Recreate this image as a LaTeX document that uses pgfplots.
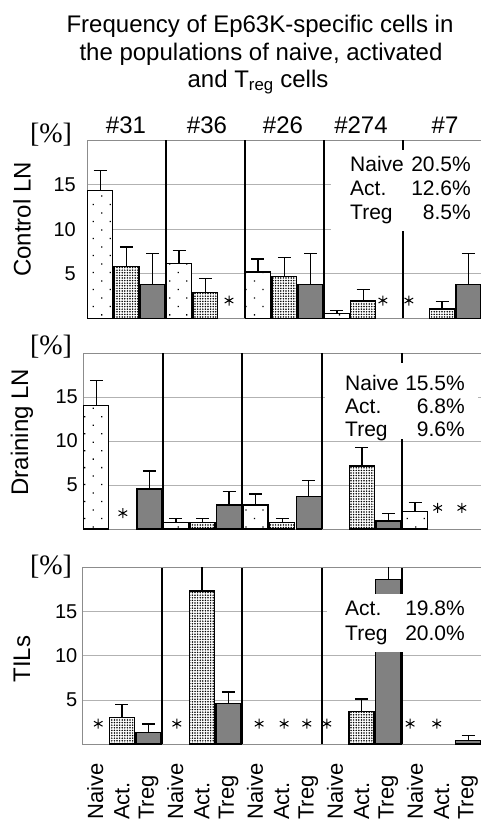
\documentclass[border=0pt]{standalone}
\usepackage{pgfplots}
\pgfplotsset{compat=1.18}
\usepackage{fontspec}
\setmainfont{Liberation Sans}
\newfontfamily\seriffont{Liberation Serif}
\usetikzlibrary{patterns.meta}

\newcommand{\fs}[1]{\fontsize{#1bp}{#1bp}\selectfont}

\pgfplotsset{
  panel/.style={
    scale only axis, anchor=south west,
    xmin=-0.5, xmax=14.5, ymin=0, ymax=20,
    enlargelimits=false,
    ytick={5,10,15}, xtick=\empty,
    major tick length=0pt,
    ymajorgrids, major grid style={black!30, line width=0.8bp},
    axis line style={black!45, line width=0.9bp},
    ybar,
    /pgf/number format/assume math mode=true,
    yticklabel style={font=\fs{20}, anchor=east, inner sep=0pt},
  },
  barbase/.style={draw=black, line width=1.4bp, bar width=0.94, bar shift=0pt,
    error bars/y dir=plus, error bars/y explicit,
    error bars/error bar style={black, line width=1.3bp},
    error bars/error mark options={black, line width=1.3bp, mark size=6.5bp, rotate=90}},
  naive/.style={barbase, preaction={fill=white},
    preaction={pattern={Dots[distance=12bp, radius=0.9bp, angle=45]}, pattern color=black}},
  act/.style={barbase, preaction={fill=white},
    preaction={pattern={Dots[distance=2.6bp, radius=0.85bp]}, pattern color=black}},
  treg/.style={barbase, preaction={fill=white},
    preaction={pattern={Dots[distance=2bp, radius=0.86bp]}, pattern color=black}},
  star/.style={sharp plot, only marks, mark=asterisk, mark size=5bp,
    mark options={black, line width=1bp}},
  sep/.style={sharp plot, no marks, black, line width=2bp},
}

\begin{document}
\begin{tikzpicture}
\useasboundingbox (0,0) rectangle (481bp,-824bp);

% title
\node[anchor=base, font=\fs{24}] at (260bp,-32bp) {Frequency of Ep63K-specific cells in};
\node[anchor=base, font=\fs{24}] at (261bp,-60bp) {the populations of naive, activated};
\node[anchor=base, font=\fs{24}] at (258bp,-87bp) {and T\textsubscript{reg} cells};

% mouse numbers
\foreach \x/\t in {126/\#31, 207/\#36, 283/\#26, 361/\#274, 445/\#7}
  \node[anchor=base, font=\fs{24}] at (\x bp,-133bp) {\t};

% ---- Control LN
\begin{axis}[panel, at={(87bp,-318.3bp)}, width=394.5bp, height=178bp,
  yticklabel style={xshift=-11bp}]
\addplot[naive] coordinates {(0,14.35) +- (0,2.25) (3,6.15) +- (0,1.5) (6,5.2) +- (0,1.45) (9,0.57) +- (0,0.3)};
\addplot[act] coordinates {(1,5.85) +- (0,2.15) (4,2.9) +- (0,1.6) (7,4.72) +- (0,2.15) (10,1.96) +- (0,1.25) (13,1.05) +- (0,0.83)};
\addplot[treg] coordinates {(2,3.78) +- (0,3.47) (8,3.78) +- (0,3.47) (14,3.78) +- (0,3.47)};
\addplot[star] coordinates {(4.9,2.0) (10.75,2.0) (11.74,2.0)};
\addplot[sep] coordinates {(2.5,0) (2.5,20)};
\addplot[sep] coordinates {(5.5,0) (5.5,20)};
\addplot[sep] coordinates {(8.5,0) (8.5,20)};
\addplot[sep] coordinates {(11.5,0) (11.5,20)};
\end{axis}
\fill[white] (331bp,-150bp) rectangle (481bp,-231bp);
\foreach \y/\a/\b in {171.5/Naive/20.5\%, 195.5/Act./12.6\%, 219.5/Treg/8.5\%} {
  \node[anchor=base west, font=\fs{21}, inner sep=0pt] at (350bp,-\y bp) {\a};
  \node[anchor=base east, font=\fs{21}, inner sep=0pt] at (471bp,-\y bp) {\b};
}

% ---- Draining LN
\begin{axis}[panel, at={(83bp,-529bp)}, width=398.5bp, height=176bp,
  yticklabel style={xshift=-5bp}]
\addplot[naive] coordinates {(0,14.06) +- (0,2.85) (3,0.72) +- (0,0.48) (6,2.72) +- (0,1.25) (12,1.96) +- (0,1.07)};
\addplot[act] coordinates {(4,0.72) +- (0,0.48) (7,0.72) +- (0,0.48) (10,7.14) +- (0,2.12)};
\addplot[treg] coordinates {(2,4.54) +- (0,2.04) (5,2.72) +- (0,1.58) (8,3.66) +- (0,1.82) (11,0.9) +- (0,0.88)};
\addplot[star] coordinates {(1.0,1.8) (12.85,2.4) (13.76,2.4)};
\addplot[sep] coordinates {(2.5,0) (2.5,20)};
\addplot[sep] coordinates {(5.5,0) (5.5,20)};
\addplot[sep] coordinates {(8.5,0) (8.5,20)};
\addplot[sep] coordinates {(11.5,0) (11.5,20)};
\end{axis}
\fill[white] (325bp,-363bp) rectangle (478bp,-439bp);
\foreach \y/\a/\b in {390/Naive/15.5\%, 413/Act./6.8\%, 436/Treg/9.6\%} {
  \node[anchor=base west, font=\fs{21}, inner sep=0pt] at (345bp,-\y bp) {\a};
  \node[anchor=base east, font=\fs{21}, inner sep=0pt] at (465bp,-\y bp) {\b};
}

% ---- TILs
\begin{axis}[panel, at={(82bp,-744bp)}, width=399.5bp, height=176.3bp,
  yticklabel style={xshift=-4.5bp},
  xtick={0,...,14},
  xticklabels={Naive,Act.,Treg,Naive,Act.,Treg,Naive,Act.,Treg,Naive,Act.,Treg,Naive,Act.,Treg},
  xticklabel style={yshift=-76bp, rotate=90, anchor=west, inner sep=0pt, font=\fs{22}}]
\addplot[act] coordinates {(1,3.03) +- (0,1.47) (4,17.38) +- (0,3.5) (10,3.66) +- (0,1.44)};
\addplot[treg] coordinates {(2,1.33) +- (0,0.94) (5,4.6) +- (0,1.3) (11,18.67) +- (0,2.5) (14,0.37) +- (0,0.63)};
\addplot[star] coordinates {(0.11,2.3) (3.06,2.3) (6.15,2.3) (7.09,2.3) (7.94,2.3) (8.69,2.3) (11.82,2.3) (12.82,2.3)};
\addplot[sep] coordinates {(2.5,0) (2.5,20)};
\addplot[sep] coordinates {(5.5,0) (5.5,20)};
\addplot[sep] coordinates {(8.5,0) (8.5,20)};
\addplot[sep] coordinates {(11.5,0) (11.5,20)};
\end{axis}
\fill[white] (327bp,-594bp) rectangle (481bp,-652bp);
\foreach \y/\a/\b in {615/Act./19.8\%, 640/Treg/20.0\%} {
  \node[anchor=base west, font=\fs{21}, inner sep=0pt] at (345bp,-\y bp) {\a};
  \node[anchor=base east, font=\fs{21}, inner sep=0pt] at (465bp,-\y bp) {\b};
}

% unit labels and row titles
\foreach \y in {135,347,567}
  \node[font=\seriffont\fs{28}] at (51bp,-\y bp) {[\%]};
\node[rotate=90, font=\fs{24}] at (22bp,-219.5bp) {Control LN};
\node[rotate=90, font=\fs{24}] at (22bp,-432bp) {Draining LN};
\node[rotate=90, font=\fs{24}] at (22bp,-659bp) {TILs};
\end{tikzpicture}
\end{document}
